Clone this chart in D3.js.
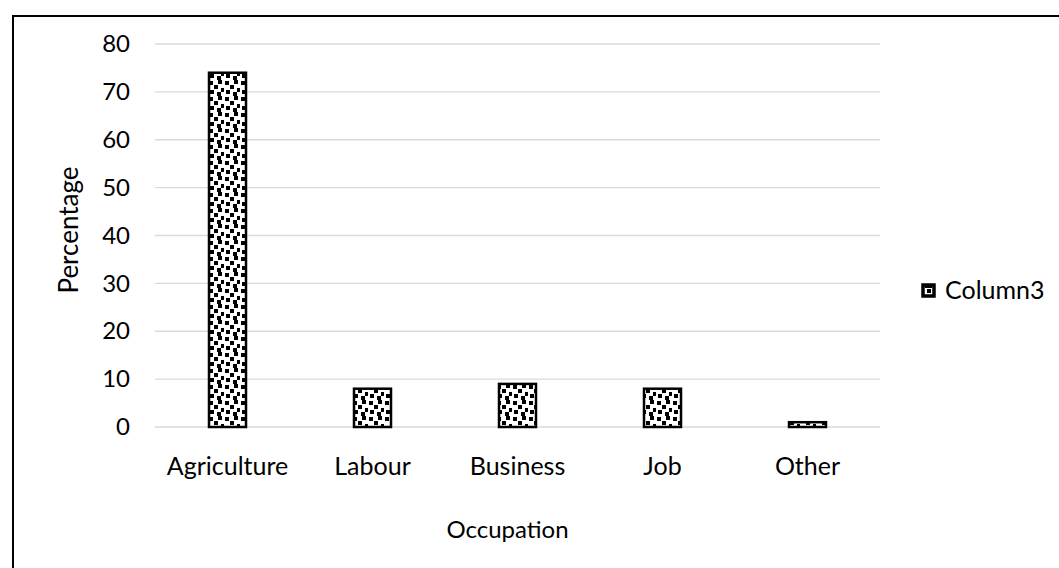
<!DOCTYPE html>
<html><head><meta charset="utf-8">
<script src="https://cdn.jsdelivr.net/npm/d3@7"></script>
<style>body{margin:0;background:#fff}svg{display:block}text{font-family:Lato,"Open Sans",sans-serif;fill:#000}</style>
</head><body><svg id="c" width="1059" height="568"></svg>
<script>
const categories = ["Agriculture","Labour","Business","Job","Other"];
const values = [74, 8, 9, 8, 1];
const yTicks = [0,10,20,30,40,50,60,70,80];
const seriesName = "Column3";
const xTitle = "Occupation", yTitle = "Percentage";

(function(){
const FF = 'Lato,"Open Sans",sans-serif';
const svg = d3.select("#c");
const defs = svg.append("defs");
const pat = defs.append("pattern").attr("id","dots").attr("patternUnits","userSpaceOnUse")
  .attr("width",16).attr("height",16);
pat.append("rect").attr("width",16).attr("height",16).attr("fill","#fff");
[[1,1],[10,0],[6,5],[13,8],[2,10],[9,12]].forEach(([a,b])=>{
  pat.append("rect").attr("x",a).attr("y",b).attr("width",4).attr("height",4).attr("fill","#000");
});

svg.append("rect").attr("x",13).attr("y",16).attr("width",1100).attr("height",600)
  .attr("fill","none").attr("stroke","#000").attr("stroke-width",2);

const pL=155, pR=880, pT=44, pB=427;
const x = d3.scaleBand().domain(categories).range([pL,pR]);
const y = d3.scaleLinear().domain([0,80]).range([pB,pT]);

svg.append("g").selectAll("line").data(yTicks).join("line")
  .attr("x1",pL).attr("x2",pR).attr("y1",d=>y(d)).attr("y2",d=>y(d))
  .attr("stroke","#d9d9d9").attr("stroke-width",1.3);

const yAxis = svg.append("g").attr("transform",`translate(${pL},0)`)
  .call(d3.axisLeft(y).tickValues(yTicks).tickSize(0).tickPadding(25));
yAxis.select(".domain").remove();
yAxis.selectAll("text").style("font-size","24px").style("font-family",FF).attr("fill","#000");

const bw = 37;
svg.append("g").selectAll("rect").data(values).join("rect")
  .attr("x",(d,i)=>x(categories[i])+x.bandwidth()/2-bw/2)
  .attr("y",d=>y(d)).attr("width",bw).attr("height",d=>pB-y(d))
  .attr("fill","url(#dots)").attr("stroke","#000").attr("stroke-width",2.5);

const xAxis = svg.append("g").attr("transform",`translate(0,${pB})`)
  .call(d3.axisBottom(x).tickSize(0).tickPadding(30));
xAxis.select(".domain").remove();
xAxis.selectAll("text").style("font-size","25px").style("font-family",FF).attr("fill","#000");

svg.append("text").attr("x",(pL+pR)/2 - 10).attr("y",538).attr("text-anchor","middle")
  .style("font-size","24px").text(xTitle);
svg.append("text").attr("transform",`translate(78,230) rotate(-90)`)
  .attr("text-anchor","middle").style("font-size","26px").text(yTitle);

svg.append("rect").attr("x",923).attr("y",285).attr("width",11).attr("height",11)
  .attr("fill","#fff").attr("stroke","#000").attr("stroke-width",3.5);
svg.append("rect").attr("x",927).attr("y",289).attr("width",4).attr("height",4).attr("fill","#000");
svg.append("rect").attr("x",925).attr("y",286).attr("width",7).attr("height",2).attr("fill","#000");
svg.append("text").attr("x",945).attr("y",299).style("font-size","25px").text(seriesName);
})();
</script></body></html>
